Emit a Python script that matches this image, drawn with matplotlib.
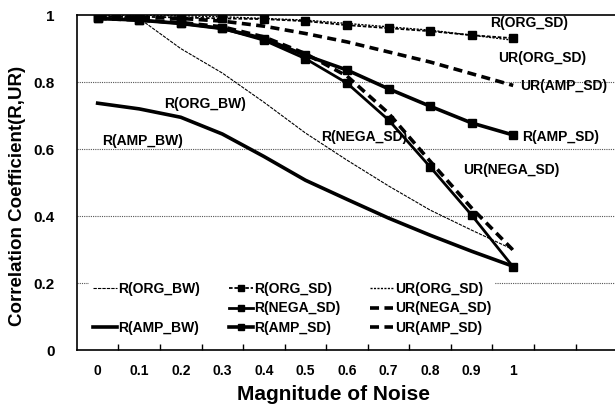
# ==========================================
# Correlation coefficient vs noise magnitude
# ==========================================

import matplotlib.pyplot as plt
from matplotlib.lines import Line2D

plt.rcParams["font.family"] = ["Liberation Sans", "DejaVu Sans"]
plt.rcParams["font.weight"] = "bold"

# ------------------------------------------
# Data
# ------------------------------------------

noise = ["0", "0.1", "0.2", "0.3", "0.4", "0.5", "0.6", "0.7", "0.8", "0.9", "1"]

r_org_bw = [1.0, 0.99, 0.90, 0.827, 0.74, 0.648, 0.567, 0.49, 0.418, 0.358, 0.30]
r_amp_bw = [0.737, 0.72, 0.695, 0.645, 0.578, 0.507, 0.45, 0.394, 0.343, 0.295, 0.25]

r_org_sd = [0.995, 0.995, 0.993, 0.99, 0.988, 0.982, 0.970, 0.961, 0.952, 0.940, 0.931]
r_nega_sd = [0.99, 0.985, 0.975, 0.96, 0.925, 0.87, 0.797, 0.687, 0.547, 0.403, 0.248]
r_amp_sd = [0.99, 0.985, 0.975, 0.96, 0.93, 0.88, 0.836, 0.78, 0.728, 0.678, 0.642]

ur_org_sd = [1.0, 1.0, 0.998, 0.995, 0.99, 0.985, 0.975, 0.965, 0.955, 0.94, 0.925]
ur_nega_sd = [0.99, 0.985, 0.978, 0.965, 0.935, 0.885, 0.818, 0.707, 0.564, 0.424, 0.298]
ur_amp_sd = [0.997, 0.994, 0.99, 0.982, 0.967, 0.945, 0.92, 0.89, 0.86, 0.825, 0.79]

x = list(range(len(noise)))

# ------------------------------------------
# Figure
# ------------------------------------------

fig = plt.figure(figsize=(6.15, 4.08), dpi=100)
ax = fig.add_axes([0.125, 0.142, 0.875, 0.821])

for yv in [0.2, 0.4, 0.6, 0.8]:
    ax.axhline(yv, color="#555555", linewidth=0.8, linestyle=(0, (1, 1)), zorder=0)

l1, = ax.plot(x, r_org_bw, color="black", linewidth=0.8, linestyle=(0, (3, 1)))
l2, = ax.plot(x, r_amp_bw, color="black", linewidth=2.6)

l3, = ax.plot(x, r_org_sd, color="black", linewidth=1.3, linestyle=(0, (2, 1)),
              marker="s", markersize=6)
l4, = ax.plot(x, r_nega_sd, color="black", linewidth=2.0,
              marker="s", markersize=6)
l5, = ax.plot(x, r_amp_sd, color="black", linewidth=2.6,
              marker="s", markersize=6)

l6, = ax.plot(x, ur_org_sd, color="black", linewidth=1.0, linestyle=(0, (1.5, 1)))
l7, = ax.plot(x, ur_nega_sd, color="black", linewidth=2.6, linestyle=(0, (2.5, 1.5)))
l8, = ax.plot(x, ur_amp_sd, color="black", linewidth=2.6, linestyle=(0, (2.5, 1.5)))

# ------------------------------------------
# Axes
# ------------------------------------------

ax.set_xlim(-0.5, 12.45)
ax.set_ylim(0, 1)

ax.set_xticks(x)
ax.set_xticklabels(noise, fontsize=10, fontweight="bold")
ax.set_xticks([k + 0.5 for k in range(12)], minor=True)
ax.tick_params(axis="x", which="major", length=0, pad=10)
ax.tick_params(axis="x", which="minor", direction="in", length=4, width=1)

ax.set_yticks([0, 0.2, 0.4, 0.6, 0.8, 1.0])
ax.set_yticklabels(["0", "0.2", "0.4", "0.6", "0.8", "1"], fontsize=11, fontweight="bold")
ax.tick_params(axis="y", length=0, pad=16)

ax.spines["right"].set_visible(False)
ax.spines["top"].set_linewidth(1.2)
ax.spines["left"].set_linewidth(1.2)
ax.spines["bottom"].set_linewidth(1.2)

ax.set_xlabel("Magnitude of Noise", fontsize=15, fontweight="bold", labelpad=5, x=0.476)
ax.set_ylabel("Correlation Coefficient(R,UR)", fontsize=13.5, fontweight="bold",
              labelpad=5, y=0.46)

# ------------------------------------------
# In-plot labels
# ------------------------------------------

notes = [
    ("R(ORG_BW)", 1.61, 0.734),
    ("R(AMP_BW)", 0.10, 0.624),
    ("R(ORG_SD)", 9.45, 0.975),
    ("UR(ORG_SD)", 9.64, 0.872),
    ("UR(AMP_SD)", 10.17, 0.788),
    ("R(AMP_SD)", 10.22, 0.636),
    ("R(NEGA_SD)", 5.37, 0.636),
    ("UR(NEGA_SD)", 8.8, 0.537),
]
for text, tx, ty in notes:
    ax.text(tx, ty, text, fontsize=10, fontweight="bold", va="center", ha="left")

# ------------------------------------------
# Legend
# ------------------------------------------

blank = Line2D([], [], linestyle="none")
handles = [l1, blank, l2, l3, l4, l5, l6, l7, l8]
labels = ["R(ORG_BW)", " ", "R(AMP_BW)",
          "R(ORG_SD)", "R(NEGA_SD)", "R(AMP_SD)",
          "UR(ORG_SD)", "UR(NEGA_SD)", "UR(AMP_SD)"]

leg = ax.legend(handles, labels, ncol=3, loc="lower left",
                bbox_to_anchor=(0.01, 0.012), prop={"size": 10, "weight": "bold"},
                handlelength=1.7, handletextpad=0.1, columnspacing=2.1,
                labelspacing=0.4, frameon=True, fancybox=False,
                borderpad=0.3, markerscale=0.8)
leg.get_frame().set_edgecolor("none")
leg.get_frame().set_facecolor("white")
leg.get_frame().set_alpha(1)

plt.savefig("out.png", dpi=100)
